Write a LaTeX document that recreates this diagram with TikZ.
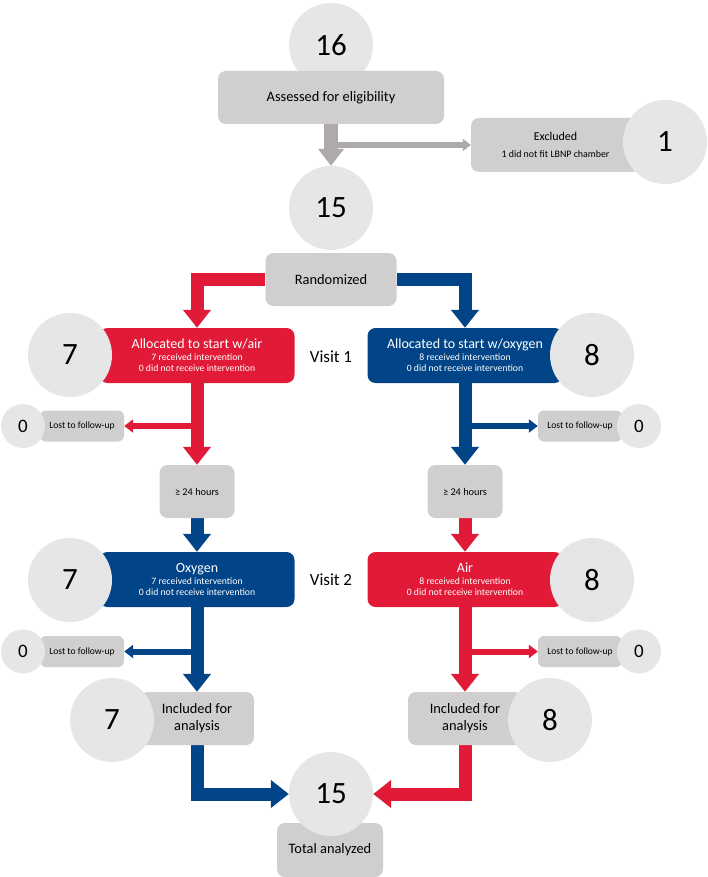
\documentclass[tikz,border=0pt]{standalone}
\usepackage{fontspec}
\setmainfont{Carlito}
\usetikzlibrary{arrows.meta, positioning, backgrounds}
\definecolor{flowRed}{HTML}{E01A37}
\definecolor{flowBlue}{HTML}{014588}
\definecolor{flowGray}{HTML}{D0CECE}
\definecolor{circGray}{HTML}{E6E6E6}
\definecolor{arrowGray}{HTML}{AEAAAA}
\tikzset{
  arrowR/.style={-{Triangle[length=18pt, width=27pt]}, flowRed, line width=13pt},
  arrowB/.style={-{Triangle[length=18pt, width=27pt]}, flowBlue, line width=13pt},
  arrowRs/.style={-{Triangle[length=9pt, width=13pt]}, flowRed, line width=6pt},
  arrowBs/.style={-{Triangle[length=9pt, width=13pt]}, flowBlue, line width=6pt},
  arrowG/.style={-{Triangle[length=17pt, width=25pt]}, arrowGray, line width=14pt},
  arrowGs/.style={-{Triangle[length=8pt, width=12pt]}, arrowGray, line width=6pt},
  boxG/.style={rectangle, rounded corners=8pt, fill=flowGray, align=center,
               inner sep=0pt, minimum height=53pt, font=\fontsize{14.4}{17}\selectfont},
  boxRed/.style={rectangle, rounded corners=8pt, fill=flowRed, text=white,
                 align=center, inner sep=0pt, minimum width=195pt, minimum height=55pt,
                 font=\fontsize{9.7}{11.5}\selectfont},
  boxBlue/.style={rectangle, rounded corners=8pt, fill=flowBlue, text=white,
                  align=center, inner sep=0pt, minimum width=195pt, minimum height=55pt,
                  font=\fontsize{9.7}{11.5}\selectfont},
  lostBox/.style={rectangle, rounded corners=6pt, fill=flowGray, inner sep=0pt,
                  minimum width=84pt, minimum height=31pt, font=\fontsize{9.6}{11}\selectfont},
  numBig/.style={circle, fill=circGray, minimum size=84pt, inner sep=0pt,
                 font=\fontsize{31}{31}\selectfont},
  numSmall/.style={circle, fill=circGray, minimum size=44pt, inner sep=0pt,
                   font=\fontsize{19}{19}\selectfont},
  visitLbl/.style={font=\fontsize{17}{20}\selectfont},
}

\begin{document}
\begin{tikzpicture}[x=1pt, y=-1pt]
  \useasboundingbox (0,0) rectangle (708,877);
  % Elegibilidad
  \node[numBig] (n16) at (331,45) {16};
  \node[boxG, minimum width=226pt] (assess) at (331,97.5) {Assessed for eligibility};
  \node[boxG, minimum width=169pt, minimum height=54pt] (excl) at (555.5,145)
    {\fontsize{12}{14}\selectfont Excluded\\ \fontsize{9.9}{11.5}\selectfont 1 did not fit LBNP chamber};
  \node[numBig] (n1) at (665,142) {1};
  \node[numBig] (n15) at (331,208) {15};
  \node[boxG, minimum width=131pt] (rand) at (331,279.5) {Randomized};

  % Visita 1
  \node[boxRed] (airA) at (197,355.5)
    {\fontsize{14}{16}\selectfont Allocated to start w/air\\ 7 received intervention\\ 0 did not receive intervention};
  \node[numBig] (n7a) at (70,355) {7};
  \node[boxBlue] (oxyA) at (465,355.5)
    {\fontsize{14}{16}\selectfont Allocated to start w/oxygen\\ 8 received intervention\\ 0 did not receive intervention};
  \node[numBig] (n8a) at (592,355) {8};
  \node[visitLbl] (visit1) at (331,357) {Visit 1};

  \node[lostBox] (lostA) at (82,426) {Lost to follow-up};
  \node[numSmall] (n0a) at (23,426) {0};
  \node[lostBox] (lostB) at (580,426) {Lost to follow-up};
  \node[numSmall] (n0b) at (639,426) {0};

  \node[boxG, minimum width=75pt, font=\fontsize{10.3}{12}\selectfont] (hrsL) at (197,491.5) {≥ 24 hours};
  \node[boxG, minimum width=75pt, font=\fontsize{10.3}{12}\selectfont] (hrsR) at (465,491.5) {≥ 24 hours};

  % Visita 2
  \node[boxBlue] (oxyB) at (197,579.5)
    {\fontsize{14}{16}\selectfont Oxygen\\ 7 received intervention\\ 0 did not receive intervention};
  \node[numBig] (n7b) at (70,580) {7};
  \node[boxRed] (airB) at (465,579.5)
    {\fontsize{14}{16}\selectfont Air\\ 8 received intervention\\ 0 did not receive intervention};
  \node[numBig] (n8b) at (592,580) {8};
  \node[visitLbl] (visit2) at (331,580) {Visit 2};

  \node[lostBox] (lostC) at (82,651.5) {Lost to follow-up};
  \node[numSmall] (n0c) at (23,651.5) {0};
  \node[lostBox] (lostD) at (580,651.5) {Lost to follow-up};
  \node[numSmall] (n0d) at (639,651.5) {0};

  % Analisis
  \node[boxG, minimum width=114pt] (inclL) at (197,718.5) {Included for\\analysis};
  \node[numBig] (n7c) at (112,720) {7};
  \node[boxG, minimum width=114pt] (inclR) at (465,718.5) {Included for\\analysis};
  \node[numBig] (n8c) at (550,720) {8};
  \node[boxG, minimum width=106pt, minimum height=54pt] (total) at (330,850) {Total analyzed};
  \node[numBig] (n15b) at (331,794) {15};

  % Flechas
  \begin{scope}[on background layer]
    \draw[arrowG] (assess.south) -- (n15.north);
    \draw[arrowGs] (assess.south |- excl.west) -- (excl.west);
    \draw[arrowR] (rand.west) -| (airA.north);
    \draw[arrowB] (rand.east) -| (oxyA.north);
    \draw[arrowR] (airA.south) -- (hrsL.north);
    \draw[arrowB] (oxyA.south) -- (hrsR.north);
    \draw[arrowRs] (airA.south |- lostA.east) -- (lostA.east);
    \draw[arrowBs] (oxyA.south |- lostB.west) -- (lostB.west);
    \draw[arrowB] (hrsL.south) -- (oxyB.north);
    \draw[arrowR] (hrsR.south) -- (airB.north);
    \draw[arrowB] (oxyB.south) -- (inclL.north);
    \draw[arrowR] (airB.south) -- (inclR.north);
    \draw[arrowBs] (oxyB.south |- lostC.east) -- (lostC.east);
    \draw[arrowRs] (airB.south |- lostD.west) -- (lostD.west);
    \draw[arrowB] (inclL.south) |- (n15b.west);
    \draw[arrowR] (inclR.south) |- (n15b.east);
  \end{scope}
\end{tikzpicture}
\end{document}
